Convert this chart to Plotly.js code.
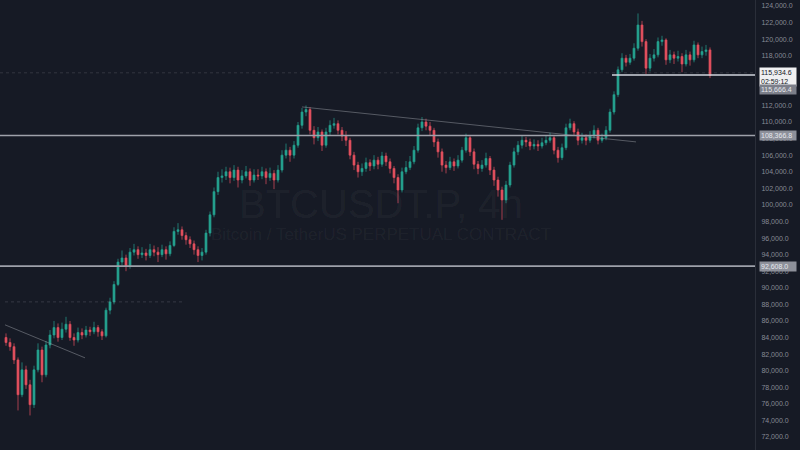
<!DOCTYPE html>
<html><head><meta charset="utf-8">
<script src="https://cdn.plot.ly/plotly-3.0.1.min.js"></script>
<style>html,body{margin:0;padding:0;background:#161a25}#chart{width:800px;height:450px}</style>
</head><body><div id="chart"></div>
<script>
const opens = [84000,83400,82900,81300,77100,80100,78300,75900,80100,82500,
79500,83100,84300,85200,84000,85000,85600,84000,83700,84600,
84300,84900,84700,85200,84700,84200,87300,88300,90400,93100,
93600,92600,94300,94600,94000,94200,93900,94600,94300,94000,
94600,94100,95100,96800,97000,96300,95800,95300,94600,93900,
94300,96600,98800,101600,103300,103500,104000,103300,104200,103000,
103500,104000,103000,103600,103500,104000,103300,103800,103000,104200,
106000,106600,106000,107200,109600,111200,111500,109000,108100,108800,
107200,108800,109600,109800,109000,108300,107800,106000,104800,104000,
104400,105100,104700,105400,104900,105900,105200,104400,103300,101800,
104000,104500,105200,106600,109300,110000,109500,109000,107600,106400,
104800,104500,105200,104700,105400,106600,108100,106400,104900,104400,
104800,105600,104200,103000,101800,100600,102400,104800,106400,107200,
107800,107600,107100,107300,107100,107500,107800,108100,106600,105700,
106900,109300,109800,108800,107800,108100,107800,108300,109000,107800,
108100,109000,111200,113300,116300,117700,117200,117700,118900,121700,
119700,116500,117700,118100,119700,119900,117500,118100,117700,117900,
117000,118100,117500,119300,118100,118500,118700];
const closes = [83400,82900,81300,77100,80100,78300,75900,80100,82500,79500,
83100,84300,85200,84000,85000,85600,84000,83700,84600,84300,
84900,84700,85200,84700,84200,87300,88300,90400,93100,93600,
92600,94300,94600,94000,94200,93900,94600,94300,94000,94600,
94100,95100,96800,97000,96300,95800,95300,94600,93900,94300,
96600,98800,101600,103300,103500,104000,103300,104200,103000,103500,
104000,103000,103600,103500,104000,103300,103800,103000,104200,106000,
106600,106000,107200,109600,111200,111500,109000,108100,108800,107200,
108800,109600,109800,109000,108300,107800,106000,104800,104000,104400,
105100,104700,105400,104900,105900,105200,104400,103300,101800,104000,
104500,105200,106600,109300,110000,109500,109000,107600,106400,104800,
104500,105200,104700,105400,106600,108100,106400,104900,104400,104800,
105600,104200,103000,101800,100600,102400,104800,106400,107200,107800,
107600,107100,107300,107100,107500,107800,108100,106600,105700,106900,
109300,109800,108800,107800,108100,107800,108300,109000,107800,108100,
109000,111200,113300,116300,117700,117200,117700,118900,121700,119700,
116500,117700,118100,119700,119900,117500,118100,117700,117900,117000,
118100,117500,119300,118100,118500,118700,115600];
const highs = [84500,83900,83300,81600,81000,80600,78900,80600,83300,82900,
83600,84900,86000,85700,85800,86500,86000,84500,85200,85100,
85400,85300,85900,85500,85000,87600,88800,90800,93500,94500,
94000,94800,95300,95000,94900,94700,95300,95100,94900,95200,
95000,95600,97300,97800,97400,96700,96200,95700,95000,94800,
97000,99200,102100,104000,104300,104600,104500,104800,104600,104200,
104700,104400,104300,104300,104600,104400,104500,104200,104800,106600,
107400,107000,107700,110000,111700,112000,111800,109500,109400,109100,
109300,110200,110500,110200,109400,108900,108100,106400,105200,105000,
105700,105500,106000,105800,106400,106300,105600,104700,103700,104500,
105300,105900,107100,109800,110600,110400,110000,109300,108000,106800,
105300,105800,105600,106000,107000,108600,108400,106800,105300,105400,
106300,105900,104600,103400,102200,102900,105200,106900,107700,108400,
108200,108000,107900,107800,108100,108400,108700,108400,107000,107400,
109800,110400,110100,109200,108700,108500,108900,109600,109300,108600,
109500,111600,113700,116700,118300,118100,118200,119500,123100,122200,
120000,118200,118800,120200,120400,120100,118700,118500,118600,118300,
118700,118500,119800,119600,119100,119300,119000];
const lows = [83000,82400,80800,75200,76800,77800,74600,75500,79800,78600,
79200,82700,83900,83500,83700,84600,83600,83000,83400,83800,
84000,84200,84400,84100,83700,84000,86800,88000,90200,92700,
92000,92300,93900,93500,93600,93300,93600,93800,93100,93700,
93400,93800,94900,96400,95800,95200,94800,94000,93100,93300,
94000,96200,98500,101200,102700,103000,102600,102900,102100,102600,
103200,102300,102700,103000,103100,102500,102900,101900,102700,103900,
105600,105200,105600,106900,109200,110700,108500,107300,107700,106500,
106900,108400,109200,108500,107700,107100,105500,104200,103300,103500,
104000,104100,104300,104300,104600,104700,103800,102600,100200,101500,
103700,104200,104900,106300,108900,109000,108300,107000,105700,104000,
103800,104200,104100,104400,105100,106300,105900,104300,103700,104000,
104500,103600,102300,101000,98200,100200,102100,104500,106000,106800,
107000,106600,106700,106500,106800,107200,107500,106100,105100,105400,
106600,109000,108300,107200,107400,107200,107500,108000,107300,107500,
107800,108700,110900,113000,116000,116700,116900,117400,118600,119100,
115800,116100,117300,117800,119200,116900,117100,117000,117300,116000,
116700,116800,117200,117700,117700,118000,115300];

const levelLines = [108366.8, 92608.0];
const rayLevel = 115666.4;
const lastPrice = 115934.6;
const countdown = '02:59:12';
const dottedLevel = 88300;
const trendA = {x: [74, 157.5], y: [111820, 107600]};
const trendB = {x: [-0.25, 19.75], y: [85530, 81550]};
const symbol = 'BTCUSDT.P, 4h';
const description = 'Bitcoin / TetherUS PERPETUAL CONTRACT';

const idx = closes.map((_, i) => i);
const fmt = v => v.toLocaleString('en-US', {minimumFractionDigits: 1, maximumFractionDigits: 1});

const trace = {
  type: 'candlestick', x: idx, open: opens, high: highs, low: lows, close: closes,
  increasing: {line: {color: '#25a18f', width: 0.7}, fillcolor: '#25a18f'},
  decreasing: {line: {color: '#e2505e', width: 0.7}, fillcolor: '#e2505e'},
  whiskerwidth: 0, hoverinfo: 'skip'
};

const shapes = [];
levelLines.forEach(v => shapes.push({type: 'line', xref: 'paper', x0: 0, x1: 1, yref: 'y', y0: v, y1: v, line: {color: '#9ea1aa', width: 1.6}}));
shapes.push({type: 'line', xref: 'paper', x0: 0, x1: 1, yref: 'y', y0: lastPrice, y1: lastPrice, line: {color: 'rgba(180,180,190,0.18)', width: 1, dash: 'dot'}});
shapes.push({type: 'line', xref: 'paper', x0: 612/755, x1: 1, yref: 'y', y0: rayLevel, y1: rayLevel, line: {color: '#d1d4dc', width: 1.4}});
shapes.push({type: 'line', xref: 'paper', x0: 5/755, x1: 183/755, yref: 'y', y0: dottedLevel, y1: dottedLevel, line: {color: 'rgba(150,150,160,0.25)', width: 1, dash: 'dot'}});
[trendA, trendB].forEach(t => shapes.push({type: 'line', xref: 'x', yref: 'y', x0: t.x[0], x1: t.x[1], y0: t.y[0], y1: t.y[1], line: {color: 'rgba(150,153,162,0.5)', width: 1}}));

const boxFont = {family: 'Liberation Sans, Arial, sans-serif', size: 7};
const annotations = [
  {xref: 'paper', yref: 'paper', x: 381/755, y: 1 - 204/450, text: symbol, showarrow: false,
   font: {family: 'Liberation Sans, Arial, sans-serif', size: 40, color: 'rgba(255,255,255,0.05)'}},
  {xref: 'paper', yref: 'paper', x: 381/755, y: 1 - 234/450, text: description, showarrow: false,
   font: {family: 'Liberation Sans, Arial, sans-serif', size: 17, color: 'rgba(255,255,255,0.05)'}},
  {xref: 'paper', x: 1, xanchor: 'left', xshift: 4, yref: 'y', y: lastPrice, yanchor: 'middle', yshift: -4,
   text: fmt(lastPrice) + '<br>' + countdown, showarrow: false, bgcolor: '#f0f0f2', width: 34, borderpad: 1,
   align: 'left', font: Object.assign({color: '#131722'}, boxFont)},
  {xref: 'paper', x: 1, xanchor: 'left', xshift: 4, yref: 'y', y: rayLevel, yanchor: 'middle', yshift: -14,
   text: fmt(rayLevel), showarrow: false, bgcolor: '#7c7f8a', width: 34, borderpad: 1,
   align: 'left', font: Object.assign({color: '#e6e8ee'}, boxFont)}
];
levelLines.forEach(v => annotations.push({xref: 'paper', x: 1, xanchor: 'left', xshift: 4, yref: 'y', y: v, yanchor: 'middle',
   text: fmt(v), showarrow: false, bgcolor: '#8d909a', width: 34, borderpad: 1, align: 'left',
   font: Object.assign({color: '#e6e8ee'}, boxFont)}));

const layout = {
  width: 800, height: 450,
  paper_bgcolor: '#161a25', plot_bgcolor: '#161a25',
  margin: {l: 0, r: 45, t: 0, b: 0},
  showlegend: false,
  xaxis: {range: [-1.5, 187.25], visible: false, rangeslider: {visible: false}, fixedrange: true},
  yaxis: {side: 'right', range: [70430, 124720], tick0: 0, dtick: 2000, tickformat: ',.1f',
    showgrid: false, zeroline: false, showline: true, linecolor: '#2a2e39', linewidth: 1,
    ticks: 'outside', ticklen: 4, tickcolor: 'rgba(0,0,0,0)',
    tickfont: {family: 'Liberation Sans, Arial, sans-serif', size: 7, color: '#868a95'}},
  shapes: shapes, annotations: annotations
};

Plotly.newPlot('chart', [trace], layout, {staticPlot: true, displayModeBar: false});
</script></body></html>
